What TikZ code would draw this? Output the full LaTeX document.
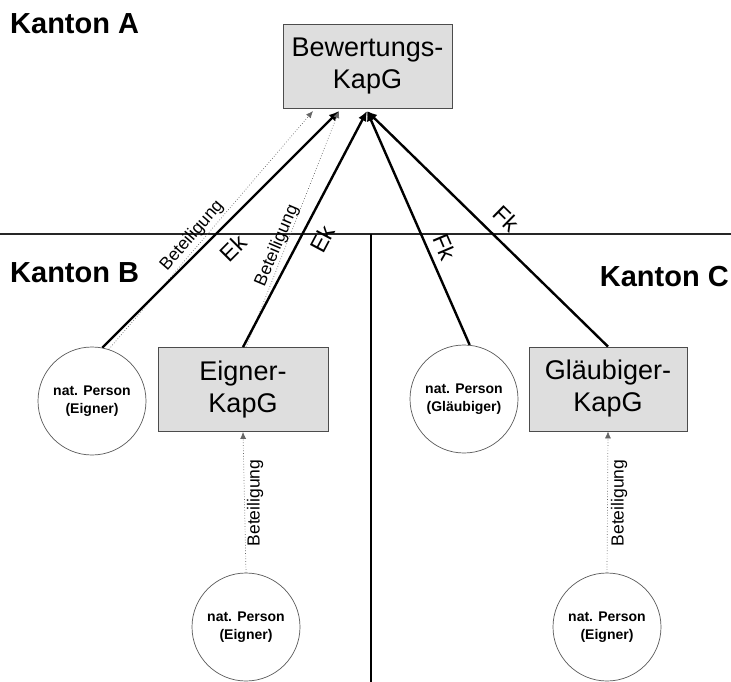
\documentclass[tikz,border=0pt]{standalone}
\usepackage{fontspec}
\setmainfont{Liberation Sans}
\usetikzlibrary{arrows.meta}
\begin{document}
\begin{tikzpicture}[x=1pt,y=-1pt,
  kbox/.style={draw=black!70,line width=0.8pt,fill=black!13,minimum width=#1,minimum height=84pt,inner sep=0pt,align=center,font=\fontsize{27}{32}\selectfont},
  person/.style={draw=black!65,line width=0.7pt,fill=white,circle,minimum size=108pt,inner sep=0pt,align=center,font=\fontsize{14}{18}\selectfont\bfseries},
  region/.style={font=\fontsize{29}{32}\selectfont\bfseries,inner sep=0pt},
  capline/.style={line width=2.4pt,-{Latex[length=10pt,width=9pt]}},
  partline/.style={line width=0.7pt,black!60,dotted,-{Latex[length=7pt,width=6pt]}},
  lab/.style={font=\fontsize{23}{26}\selectfont,inner sep=0pt},
  blab/.style={font=\fontsize{17.5}{20}\selectfont,inner sep=0pt}]
\useasboundingbox (0,0) rectangle (731,682);
% regions
\coordinate (hl) at (0,234);
\coordinate (hr) at (731,234);
\coordinate (vt) at (371,234);
\coordinate (vb) at (371,682);
\draw[line width=1.4pt,black!85] (hl) -- (hr);
\draw[line width=2pt] (vt) -- (vb);
\node[region,anchor=west] (kA) at (10,24) {Kanton A};
\node[region,anchor=west] (kB) at (10,273) {Kanton B};
\node[region,anchor=east] (kC) at (729,277) {Kanton C};
% boxes
\node[kbox=169pt] (bew) at (367.5,66) {Bewertungs-\\KapG};
\node[kbox=170pt] (eig) at (243,389.5) {Eigner-\\KapG};
\node[kbox=158pt] (gla) at (608,389) {Gläubiger-\\KapG};
% persons
\node[person] (pE) at (92,401) {nat. Person\\(Eigner)};
\node[person] (pG) at (464,399) {nat. Person\\(Gläubiger)};
\node[person] (pE2) at (246,627) {nat. Person\\(Eigner)};
\node[person] (pE3) at (607,627) {nat. Person\\(Eigner)};
% target points on Bewertungs box
\coordinate (t1) at (313,111);
\coordinate (t2) at (339,111);
\coordinate (t3) at (367,111);
% connectors
\draw[partline] (pE.72) -- (t1);
\draw[capline] (pE.79) -- (t2);
\draw[partline] ([xshift=3pt]eig.north) -- (t2);
\draw[capline] (eig.north) -- (t3);
\draw[capline] (pG.84) -- (t3);
\draw[capline] (gla.north) -- (t3);
\draw[partline] (pE2.north) -- (eig.south);
\draw[partline] (pE3.north) -- (gla.south);
% labels
\node[blab,rotate=49] (b1) at (192,236) {Beteiligung};
\node[lab,rotate=45] (e1) at (233,248) {Ek};
\node[blab,rotate=67] (b2) at (277,246) {Beteiligung};
\node[lab,rotate=62] (e2) at (322,239) {Ek};
\node[lab,rotate=-67] (f1) at (445,247) {Fk};
\node[lab,rotate=-44.5] (f2) at (506,219) {Fk};
\node[blab,rotate=90] (b3) at (255,503) {Beteiligung};
\node[blab,rotate=90] (b4) at (619,503) {Beteiligung};
\end{tikzpicture}
\end{document}
